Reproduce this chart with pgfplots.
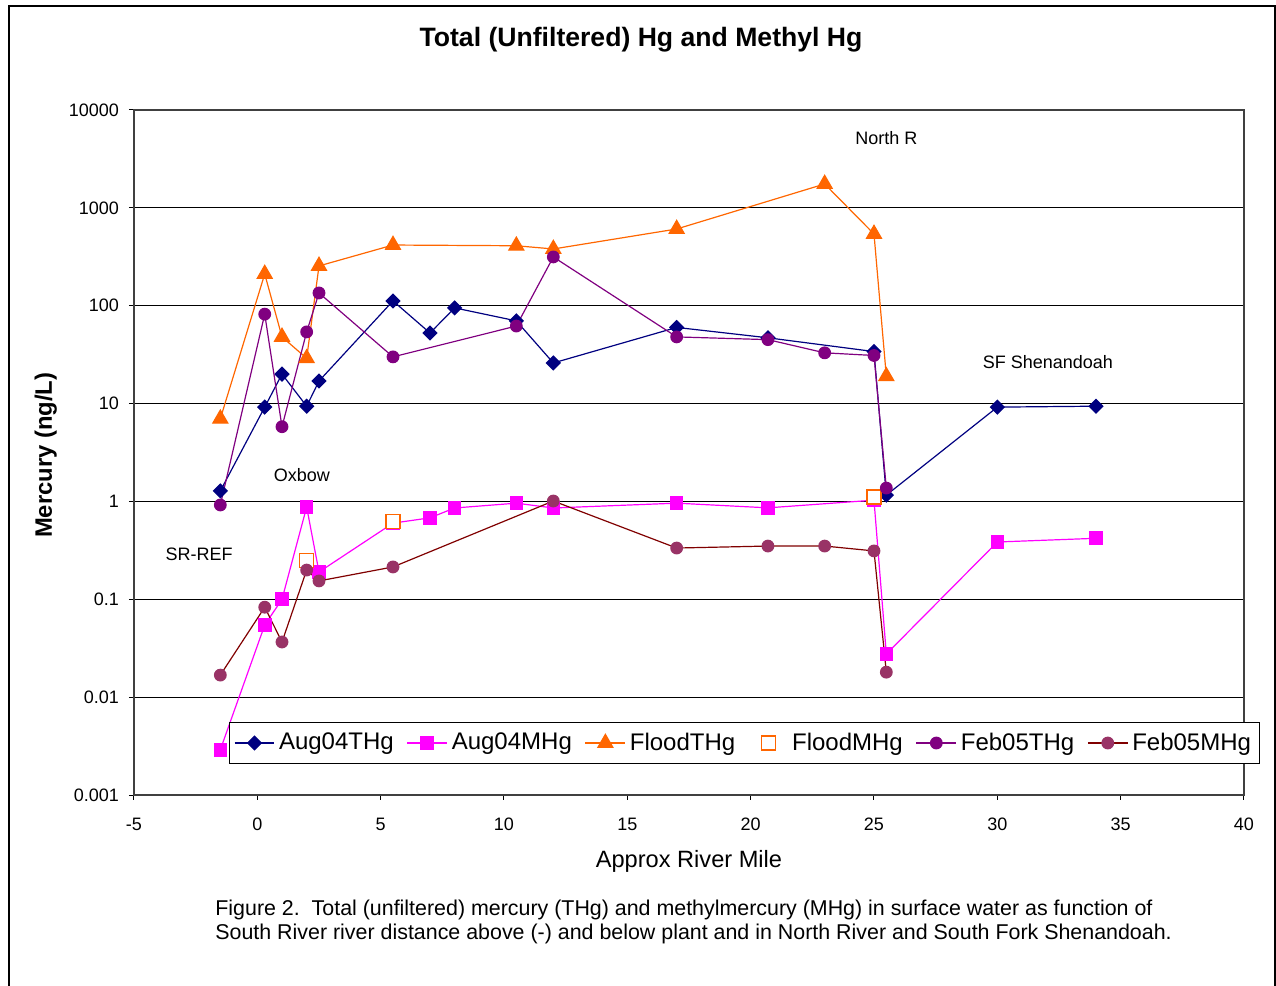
\documentclass[border=0pt]{standalone}
\usepackage{fontspec}
\setmainfont{Liberation Sans}
\usepackage{pgfplots}
\pgfplotsset{compat=1.18}

\definecolor{augT}{HTML}{000080}
\definecolor{augM}{HTML}{FF00FF}
\definecolor{flood}{HTML}{FF6600}
\definecolor{febT}{HTML}{800080}
\definecolor{febMmark}{HTML}{993366}
\definecolor{febMline}{HTML}{800000}

% legend sample for a marks-only series: mark centred in a full-width slot
\pgfplotsset{markonly legend/.style={legend image code/.code={%
  \path[draw=none,fill=none] (0cm,0cm) -- (0.7cm,0cm);
  \draw[##1] plot coordinates {(0.35cm,0cm)};}}}

\begin{document}
\begin{tikzpicture}
\useasboundingbox (0,0) rectangle (638pt,493pt);
% outer chart frame (open at the bottom)
\draw[line width=1pt] (4.5pt,-2pt) -- (4.5pt,490pt) -- (637.3pt,490pt) -- (637.3pt,-2pt);

\begin{axis}[
  at={(67pt,95.5pt)}, anchor=south west,
  scale only axis, width=555pt, height=342.5pt,
  xmin=-5, xmax=40,
  ymode=log, ymin=0.001, ymax=10000,
  xtick={-5,0,5,10,15,20,25,30,35,40},
  ytick={0.001,0.01,0.1,1,10,100,1000,10000},
  yticklabels={0.001,0.01,0.1,1,10,100,1000,10000},
  yminorticks=false,
  tick align=outside, xtick pos=bottom, ytick pos=left,
  major tick length=2.5pt,
  ymajorgrids, grid style={black, line width=0.5pt},
  axis line style={black!75, line width=0.6pt},
  tick style={black, line width=0.5pt},
  ticklabel style={font=\fontsize{9}{10}\selectfont},
  xticklabel style={yshift=-5.5pt},
  yticklabel style={xshift=-1.5pt},
  /pgf/number format/assume math mode=true,
  xlabel={Approx River Mile},
  xlabel style={at={(axis description cs:0.5,-0.0965)}, anchor=center, font=\fontsize{11.8}{13}\selectfont},
  ylabel={Mercury (ng/L)},
  ylabel style={at={(axis description cs:-0.0795,0.496)}, anchor=center, font=\bfseries\fontsize{11.9}{13}\selectfont},
  legend columns=6,
  legend style={at={(axis description cs:0.55,0.0759)}, anchor=center,
    draw=black, line width=0.5pt, fill=white,
    font=\fontsize{12}{14}\selectfont,
    inner xsep=2pt, inner ysep=3pt,
    /tikz/every even column/.append style={column sep=4.5pt}},
  legend image code/.code={\draw[mark repeat=2,mark phase=2,#1] plot coordinates {(0cm,0cm) (0.35cm,0cm) (0.7cm,0cm)};},
  every axis plot/.append style={line width=0.6pt},
  clip=false,
]

\addplot[color=augT, mark=square*, mark size=2.4pt, mark options={rotate=45, fill=augT, draw=augT}]
  coordinates {(-1.5,1.28) (0.3,9.2) (1,20) (2,9.4) (2.5,17) (5.5,112) (7,52.6) (8,95) (10.5,70) (12,26) (17,60) (20.7,47) (25,34) (25.5,1.16) (30,9.2) (34,9.4)};
\addlegendentry{Aug04THg}

\addplot[color=augM, mark=square*, mark size=3.1pt, mark options={fill=augM, draw=augM}]
  coordinates {(-1.5,0.0029) (0.3,0.0546) (1,0.10) (2,0.877) (2.5,0.19) (5.5,0.6) (7,0.68) (8,0.857) (10.5,0.96) (12,0.857) (17,0.96) (20.7,0.86) (25,1.03) (25.5,0.0276) (30,0.385) (34,0.42)};
\addlegendentry{Aug04MHg}

\addplot[color=flood, mark=triangle*, mark size=4.3pt, mark options={fill=flood, draw=flood}]
  coordinates {(-1.5,7.0) (0.3,211) (1,48) (2,29) (2.5,255) (5.5,417) (10.5,410) (12,380) (17,608) (23,1754) (25,541) (25.5,19)};
\addlegendentry{FloodTHg}

\addplot[only marks, mark=square*, mark size=3.5pt, mark options={fill=white, draw=flood, line width=0.6pt}, markonly legend]
  coordinates {(2,0.25) (5.5,0.62) (25,1.11)};
\addlegendentry{FloodMHg}

\addplot[color=febT, mark=*, mark size=2.9pt, mark options={fill=febT, draw=febT}]
  coordinates {(-1.5,0.92) (0.3,82) (1,5.8) (2,54) (2.5,135) (5.5,30) (10.5,62) (12,315) (17,48) (20.7,45) (23,33) (25,31) (25.5,1.37)};
\addlegendentry{Feb05THg}

\addplot[color=febMline, mark=*, mark size=2.9pt, mark options={fill=febMmark, draw=febMmark}]
  coordinates {(-1.5,0.0168) (0.3,0.083) (1,0.0366) (2,0.199) (2.5,0.154) (5.5,0.214) (12,1.01) (17,0.334) (20.7,0.35) (23,0.35) (25,0.312) (25.5,0.018)};
\addlegendentry{Feb05MHg}

% site labels
\node[font=\fontsize{9}{10}\selectfont] at (axis cs:25.5,5170) {North R};
\node[font=\fontsize{9}{10}\selectfont] at (axis cs:32.05,26.6) {SF Shenandoah};
\node[font=\fontsize{9}{10}\selectfont] at (axis cs:1.81,1.86) {Oxbow};
\node[font=\fontsize{9}{10}\selectfont] at (axis cs:-2.36,0.29) {SR-REF};
\end{axis}

\node[font=\bfseries\fontsize{13.3}{15}\selectfont] at (320.5pt,473pt) {Total (Unfiltered) Hg and Methyl Hg};
\node[anchor=west, align=left, inner sep=0pt, font=\fontsize{10.7}{12}\selectfont] at (107.5pt,32pt)
  {Figure 2.\ \ Total (unfiltered) mercury (THg) and methylmercury (MHg) in surface water as function of\\
   South River river distance above (-) and below plant and in North River and South Fork Shenandoah.};
\end{tikzpicture}
\end{document}
